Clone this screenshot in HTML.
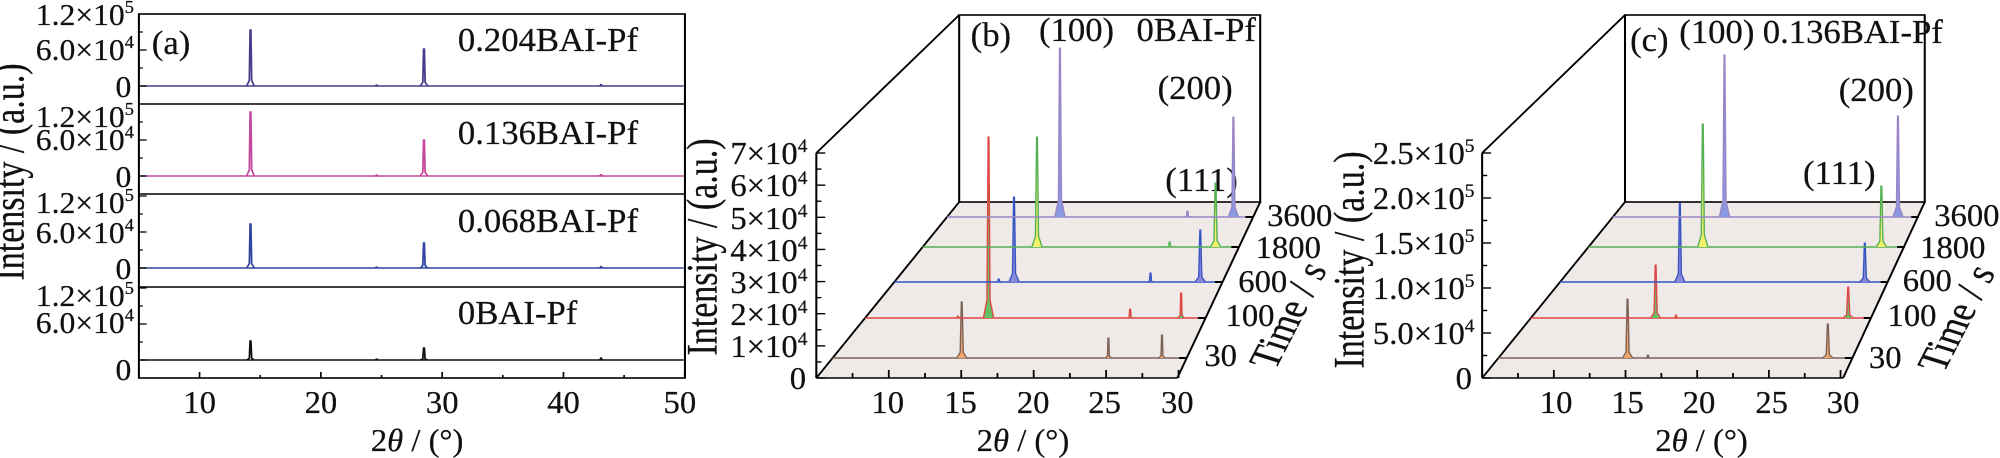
<!DOCTYPE html>
<html><head><meta charset="utf-8"><style>
html,body{margin:0;padding:0;background:#fff;}
svg{display:block;}
text{font-family:"Liberation Serif",serif;fill:#111;stroke:#111;stroke-width:0.25;}
</style></head><body>
<svg id="s" width="2000" height="458" viewBox="0 0 1568 458" preserveAspectRatio="none" xmlns="http://www.w3.org/2000/svg">
<rect width="1568" height="458" fill="#fff"/>
<g stroke="#000" stroke-width="1.6" fill="none">
<rect x="108.9" y="14" width="428.1" height="364"/>
<line x1="108.9" y1="104" x2="537" y2="104"/>
<line x1="108.9" y1="194" x2="537" y2="194"/>
<line x1="108.9" y1="287" x2="537" y2="287"/>
</g>
<g font-size="31" text-anchor="end" class="c">
<text x="105" y="25">1.2×10<tspan font-size="18" dy="-12">5</tspan></text>
<text x="105" y="60">6.0×10<tspan font-size="18" dy="-12">4</tspan></text>
<text x="103" y="97">0</text>
<text x="105" y="127">1.2×10<tspan font-size="18" dy="-12">5</tspan></text>
<text x="105" y="150">6.0×10<tspan font-size="18" dy="-12">4</tspan></text>
<text x="103" y="187">0</text>
<text x="105" y="213">1.2×10<tspan font-size="18" dy="-12">5</tspan></text>
<text x="105" y="243">6.0×10<tspan font-size="18" dy="-12">4</tspan></text>
<text x="103" y="279">0</text>
<text x="105" y="306">1.2×10<tspan font-size="18" dy="-12">5</tspan></text>
<text x="105" y="333">6.0×10<tspan font-size="18" dy="-12">4</tspan></text>
<text x="103" y="380">0</text>
</g>
<g font-size="32" text-anchor="middle" class="c">
<text x="156.5" y="413">10</text><text x="251.6" y="413">20</text><text x="346.7" y="413">30</text><text x="441.8" y="413">40</text><text x="533" y="413">50</text>
<text x="327" y="451">2<tspan font-style="italic">θ</tspan> / (°)</text>
</g>
<text x="10.5" y="172" font-size="34" text-anchor="middle" transform="rotate(-90 10.5 172)" dominant-baseline="middle">Intensity / (a.u.)</text>
<g font-size="34" class="c">
<text x="119" y="54">(a)</text>
<text x="359" y="51">0.204BAI-Pf</text>
<text x="359" y="144">0.136BAI-Pf</text>
<text x="359" y="232">0.068BAI-Pf</text>
<text x="359" y="324">0BAI-Pf</text>
</g>

<polygon points="640,378 923,378 988,202 752,202" fill="#efe9e8"/>
<g stroke="#000" stroke-width="1.6" fill="none">
<line x1="640" y1="153" x2="640" y2="378"/>
<line x1="640" y1="378" x2="923" y2="378"/>
<line x1="923" y1="378" x2="988" y2="202"/>
<line x1="640" y1="378" x2="752" y2="202"/>
<line x1="640" y1="153" x2="752" y2="15"/>
<rect x="752" y="15" width="236" height="187"/>
</g>
<g font-size="32" text-anchor="end" class="c">
<text x="633" y="164">7×10<tspan font-size="19" dy="-12">4</tspan></text>
<text x="633" y="196">6×10<tspan font-size="19" dy="-12">4</tspan></text>
<text x="633" y="229">5×10<tspan font-size="19" dy="-12">4</tspan></text>
<text x="633" y="261">4×10<tspan font-size="19" dy="-12">4</tspan></text>
<text x="633" y="293">3×10<tspan font-size="19" dy="-12">4</tspan></text>
<text x="633" y="325">2×10<tspan font-size="19" dy="-12">4</tspan></text>
<text x="633" y="357">1×10<tspan font-size="19" dy="-12">4</tspan></text>
<text x="632" y="389">0</text>
</g>
<g font-size="32" text-anchor="middle" class="c">
<text x="696" y="413">10</text><text x="753" y="413">15</text><text x="810" y="413">20</text><text x="866" y="413">25</text><text x="923" y="413">30</text>
<text x="802" y="451">2<tspan font-style="italic">θ</tspan> / (°)</text>
<text x="1019" y="226">3600</text><text x="1010" y="258">1800</text><text x="990" y="292">600</text><text x="980" y="326">100</text><text x="957" y="366">30</text>
</g>
<text x="1013" y="317" font-size="34" text-anchor="middle" dominant-baseline="middle" transform="rotate(-68 1013 317)">Time / <tspan font-style="italic">s</tspan></text>
<text x="554" y="247" font-size="34" text-anchor="middle" dominant-baseline="middle" transform="rotate(-90 554 247)">Intensity / (a.u.)</text>
<g font-size="34" class="c">
<text x="761" y="46">(b)</text>
<text x="844" y="41" text-anchor="middle">(100)</text>
<text x="891" y="41">0BAI-Pf</text>
<text x="937" y="99" text-anchor="middle">(200)</text>
<text x="942" y="191" text-anchor="middle">(111)</text>
</g>

<polygon points="1162,378 1445,378 1509,202 1274,202" fill="#efe9e8"/>
<g stroke="#000" stroke-width="1.6" fill="none">
<line x1="1162" y1="153" x2="1162" y2="378"/>
<line x1="1162" y1="378" x2="1445" y2="378"/>
<line x1="1445" y1="378" x2="1509" y2="202"/>
<line x1="1162" y1="378" x2="1274" y2="202"/>
<line x1="1162" y1="153" x2="1274" y2="15"/>
<rect x="1274" y="15" width="235" height="187"/>
</g>
<g font-size="32" text-anchor="end" class="c">
<text x="1156" y="164">2.5×10<tspan font-size="19" dy="-12">5</tspan></text>
<text x="1156" y="209">2.0×10<tspan font-size="19" dy="-12">5</tspan></text>
<text x="1156" y="254">1.5×10<tspan font-size="19" dy="-12">5</tspan></text>
<text x="1156" y="299">1.0×10<tspan font-size="19" dy="-12">5</tspan></text>
<text x="1156" y="344">5.0×10<tspan font-size="19" dy="-12">4</tspan></text>
<text x="1154" y="389">0</text>
</g>
<g font-size="32" text-anchor="middle" class="c">
<text x="1220" y="413">10</text><text x="1276" y="413">15</text><text x="1332" y="413">20</text><text x="1389" y="413">25</text><text x="1445" y="413">30</text>
<text x="1334" y="451">2<tspan font-style="italic">θ</tspan> / (°)</text>
<text x="1542" y="226">3600</text><text x="1531" y="258">1800</text><text x="1511" y="291">600</text><text x="1499" y="326">100</text><text x="1478" y="368">30</text>
</g>
<text x="1537" y="320" font-size="34" text-anchor="middle" dominant-baseline="middle" transform="rotate(-68 1537 320)">Time / <tspan font-style="italic">s</tspan></text>
<text x="1061" y="260" font-size="34" text-anchor="middle" dominant-baseline="middle" transform="rotate(-90 1061 260)">Intensity / (a.u.)</text>
<g font-size="34" class="c">
<text x="1278" y="51">(c)</text>
<text x="1346" y="43" text-anchor="middle">(100)</text>
<text x="1382" y="43">0.136BAI-Pf</text>
<text x="1471" y="101" text-anchor="middle">(200)</text>
<text x="1442" y="184" text-anchor="middle">(111)</text>
</g>
<g id="dyn"></g>
</svg>
<script>
(function(){
var ts=document.querySelectorAll("g.c > text");
for(var i=0;i<ts.length;i++){var x=ts[i].getAttribute("x");ts[i].setAttribute("transform","translate("+x+" 0) scale(0.8 1) translate("+(-x)+" 0)");}
var NS="http://www.w3.org/2000/svg",g=document.getElementById("dyn");
function el(t,a){var e=document.createElementNS(NS,t);for(var k in a)e.setAttribute(k,a[k]);g.appendChild(e);return e;}
function line(x1,y1,x2,y2,c,w){el("line",{x1:x1,y1:y1,x2:x2,y2:y2,stroke:c,"stroke-width":w||1.6});}
function peakPath(x,y,h,hw){return "M"+(x-hw)+" "+y+" L"+(x-hw*0.3)+" "+(y-h*0.1)+" L"+(x-0.3)+" "+(y-h)+" L"+(x+0.3)+" "+(y-h)+" L"+(x+hw*0.3)+" "+(y-h*0.1)+" L"+(x+hw)+" "+y;}
var ax=function(t){return 108.9+(t-5)*9.51;};
var rowsA=[[86,"#4b3a8c",56,37,1.5],[176,"#c4489c",64,36,1.5],[268,"#3344a0",44,25,1.5],[360,"#111",19,12,2]];
rowsA.forEach(function(r){
 var y=r[0];line(110,y,536,y,r[1],1.5);
 el("path",{d:peakPath(ax(14.2),y,r[2],3),stroke:r[1],"stroke-width":1.4,fill:"none"});
 el("path",{d:peakPath(ax(28.5),y,r[3],3),stroke:r[1],"stroke-width":1.4,fill:"none"});
 el("path",{d:peakPath(ax(43.1),y,r[4],3),stroke:r[1],"stroke-width":1.2,fill:"none"});
 el("path",{d:peakPath(ax(24.6),y,1,2),stroke:r[1],"stroke-width":1.2,fill:"none"});
});
[[14,104,86],[104,194,176],[194,287,268],[287,378,360]].forEach(function(p){
 for(var k=0;k<5;k++){var yy=p[2]-k*18;if(yy<p[0]+1)break;line(108.9,yy,108.9+(k%2==0?6:3),yy,"#000",1.3);}
});
for(var t=10;t<=50;t+=5){var xx=ax(t);line(xx,378,xx,378-(t%10==0?6:3),"#000",1.3);}
function panel(x0,sc,ticksY,rows){
 ticksY.forEach(function(v){line(x0,v[0],x0+(v[1]?7:4),v[0],"#000",1.4);});
 for(var t=5;t<=30;t+=2.5){var xx=x0+(t-5)*sc;line(xx,378,xx,378-((t%5==0)?8:5),"#000",1.4);}
 rows.forEach(function(r){
  var y=r.y,f=(378-y)/176,xl=x0+112*f,xr=x0+283+65*f;
  line(xl,y,xr,y,r.c,1.5);
  line(xr-6,y,xr,y,"#000",2);
  r.p.forEach(function(p){
   var d=peakPath(p[0],y,p[1],p[1]>30?4:2.5);
   el("path",{d:d+" Z",fill:r.f,stroke:"none"});
   el("path",{d:d,fill:"none",stroke:r.c,"stroke-width":1.1});
  });
 });
}
var tyB=[];for(var i=0;i<=14;i++)tyB.push([378-i*16.07,i%2==0]);
panel(640,11.36,tyB,[
 {y:358,c:"#7a6258",f:"#f2a66a",p:[[754,56],[869,20],[911,23]]},
 {y:318,c:"#e04646",f:"#66c066",p:[[775,181],[886,9],[926,25],[751,2]]},
 {y:282,c:"#3355c4",f:"#8c88d8",p:[[795,85],[783,3],[902,9],[941,52]]},
 {y:247,c:"#55b055",f:"#f2f268",p:[[813,110],[917,5],[953,64]]},
 {y:217,c:"#9a86c6",f:"#8a98e2",p:[[831,169],[931,6],[967,100]]}
]);
var tyC=[];for(var i=0;i<=10;i++)tyC.push([378-i*22.5,i%2==0]);
panel(1162,11.24,tyC,[
 {y:358,c:"#7a6258",f:"#f2a66a",p:[[1276,59],[1292,3],[1433,34]]},
 {y:318,c:"#e04646",f:"#66c066",p:[[1298,53],[1314,3],[1449,31]]},
 {y:282,c:"#3355c4",f:"#8c88d8",p:[[1317,79],[1462,39]]},
 {y:247,c:"#55b055",f:"#f2f268",p:[[1335,123],[1475,61]]},
 {y:217,c:"#9a86c6",f:"#8a98e2",p:[[1352,162],[1488,101]]}
]);
})();
</script>
</body></html>
